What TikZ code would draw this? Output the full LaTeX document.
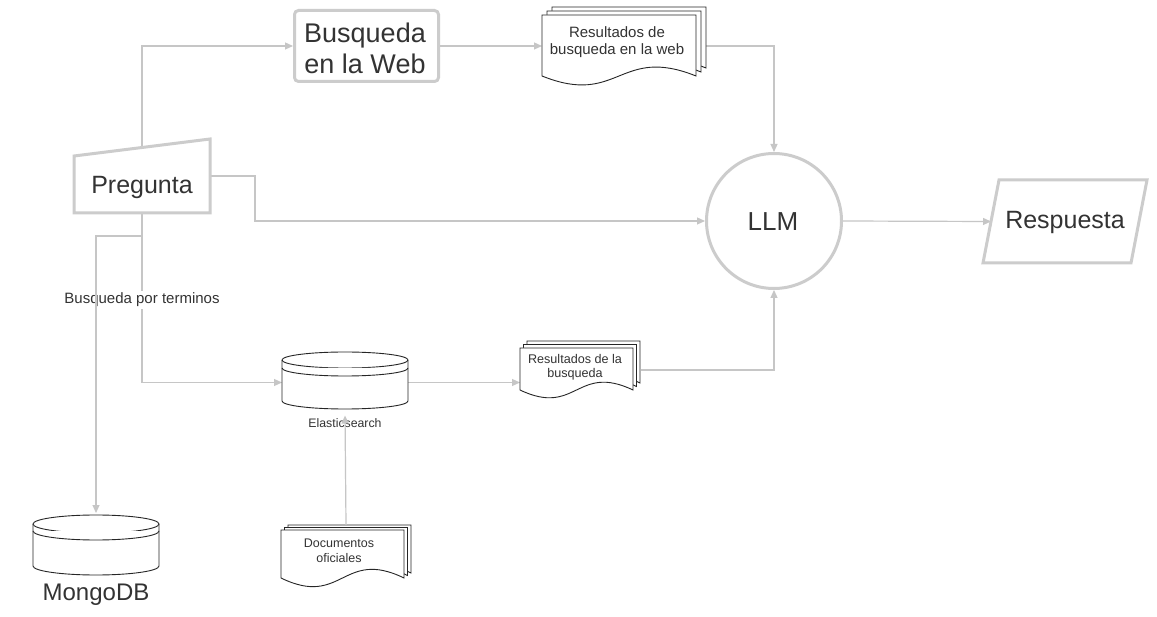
\documentclass[tikz,border=0pt]{standalone}
\usepackage{fontspec}
\setmainfont{Liberation Sans}
\usetikzlibrary{arrows.meta,calc}
\definecolor{lin}{HTML}{C6C6C6}
\definecolor{brd}{HTML}{CCCCCC}
\definecolor{txt}{HTML}{333333}
\newcommand\docpath[5]{%
  \filldraw[docsty] (#1,-#4) -- (#1,-#3) -- (#2,-#3) -- (#2,-#4)
   .. controls ({(#1+#2)/2},{-#4+#5}) and ({(#1+#2)/2},{-#4-#5}) .. (#1,-#4) -- cycle;}
\newcommand\cylpath[6]{%
  \filldraw[docsty] ({#1-#2},-#3) -- ({#1-#2},-#4)
    arc[start angle=180,end angle=360,x radius=#2pt,y radius=#5pt]
    -- ({#1+#2},-#3)
    arc[start angle=0,end angle=180,x radius=#2pt,y radius=#5pt] -- cycle;
  \draw[docsty] ({#1-#2},-#3) arc[start angle=180,end angle=360,x radius=#2pt,y radius=#5pt];
  \draw[docsty] ({#1-#2},{-#3-#6}) arc[start angle=180,end angle=360,x radius=#2pt,y radius=#5pt];}
\tikzset{
  conn/.style={draw=lin,line width=1.2pt,-{Triangle[length=8pt,width=7pt]}},
  plain/.style={draw=lin,line width=1.2pt},
  docsty/.style={draw=black!85,fill=white,line width=0.9pt},
  grayshape/.style={draw=brd,fill=white,line width=3pt,line join=miter},
  holder/.style={inner sep=0pt,outer sep=0pt,minimum width=#1},
  txtn/.style={text=txt,inner sep=0pt},
}
\begin{document}
\begin{tikzpicture}[x=1pt,y=1pt]
\fill[white] (0,0) rectangle (1157,-617);
\useasboundingbox (0,0) rectangle (1157,-617);

% placeholders for shapes
\node[holder=147,minimum height=74] (web) at (366.5,-46) {};
\node[holder=136,minimum height=74] (preg) at (142,-176) {};
\coordinate (pregtop) at (142,-147.5);
\coordinate (branch) at (142,-236);
\node[holder=164,minimum height=62] (webres) at (624,-46) {};
\node[circle,inner sep=0pt,minimum size=138,outer sep=0pt] (llm) at (774,-221) {};
\node[holder=149,minimum height=83] (resp) at (1065.5,-221.5) {};
\node[holder=126,minimum height=58] (es) at (345,-382.5) {};
\node[holder=121,minimum height=50] (sres) at (580.5,-370) {};
\node[holder=130,minimum height=62] (docs) at (346,-556) {};
\node[holder=126,minimum height=62] (mongo) at (96,-544) {};

% connectors
\draw[conn] (pregtop) |- (web.west);
\draw[conn] (web.east) -- (webres.west);
\draw[conn] (webres.east) -| (llm.north);
\draw[conn] (preg.east) -- ++(45,0) |- (llm.west);
\draw[conn] (preg.south) |- (es.west);
\draw[conn] (es.east) -- (es.east -| sres.west);
\draw[conn] (sres.east) -| (llm.south);
\draw[conn] (llm.east) -- (resp.west);

\node[txtn,fill=white,inner xsep=0pt,inner ysep=2pt,anchor=base,font=\fontsize{15}{18}\selectfont] (lblterm) at (142,-304) {Busqueda por terminos};
\draw[conn] (branch) -| (mongo.north);

% shapes
\draw[grayshape,rounded corners=4pt] (294.5,-10.5) rectangle (438.5,-81.5);
\draw[grayshape] (74,-156) -- (210,-139) -- (210,-213) -- (74,-213) -- cycle;
\draw[grayshape] (774,-221) circle[radius=67.5pt];
\draw[grayshape] (999,-180) -- (1147,-180) -- (1131,-263) -- (983,-263) -- cycle;

% multi-documents
\begin{scope}[shift={(10,8)}]\docpath{542}{696}{15}{76}{31}\end{scope}
\begin{scope}[shift={(5,4)}]\docpath{542}{696}{15}{76}{31}\end{scope}
\docpath{542}{696}{15}{76}{31}

\begin{scope}[shift={(7,7)}]\docpath{520}{633}{348}{390}{27}\end{scope}
\begin{scope}[shift={(3.5,3.5)}]\docpath{520}{633}{348}{390}{27}\end{scope}
\docpath{520}{633}{348}{390}{27}

\begin{scope}[shift={(7,5)}]\docpath{281}{404}{530}{578}{30}\end{scope}
\begin{scope}[shift={(3.5,2.5)}]\docpath{281}{404}{530}{578}{30}\end{scope}
\docpath{281}{404}{530}{578}{30}

% cylinders
\cylpath{345}{63}{360}{401}{8}{8}
\cylpath{96}{63}{524}{566}{9}{7}

% texts
\node[txtn,align=center,font=\fontsize{27}{31}\selectfont] (webtxt) at (365,-48.5) {Busqueda\\en la Web};
\node[txtn,anchor=base,font=\fontsize{25}{30}\selectfont] (pregtxt) at (142,-194) {Pregunta};
\node[txtn,anchor=base,font=\fontsize{26}{30}\selectfont] (llmtxt) at (773,-231) {LLM};
\node[txtn,anchor=base,font=\fontsize{25}{30}\selectfont] (resptxt) at (1065,-229) {Respuesta};
\node[txtn,anchor=base,font=\fontsize{24}{28}\selectfont] (mongotxt) at (96,-600) {MongoDB};
\node[txtn,align=center,font=\fontsize{15}{16.3}\selectfont] (webrestxt) at (617,-42) {Resultados de\\busqueda en la web};
\node[txtn,align=center,font=\fontsize{12.6}{14}\selectfont] (srestxt) at (575,-367) {Resultados de la\\busqueda};
\node[txtn,align=center,font=\fontsize{12.5}{15}\selectfont] (docstxt) at (339,-551) {Documentos\\oficiales};
\node[txtn,anchor=base,font=\fontsize{12.3}{14}\selectfont] (estxt) at (345,-428) {Elasticsearch};

\draw[conn,shorten >=4pt] (docs.north) -- (es.south);
\end{tikzpicture}
\end{document}
